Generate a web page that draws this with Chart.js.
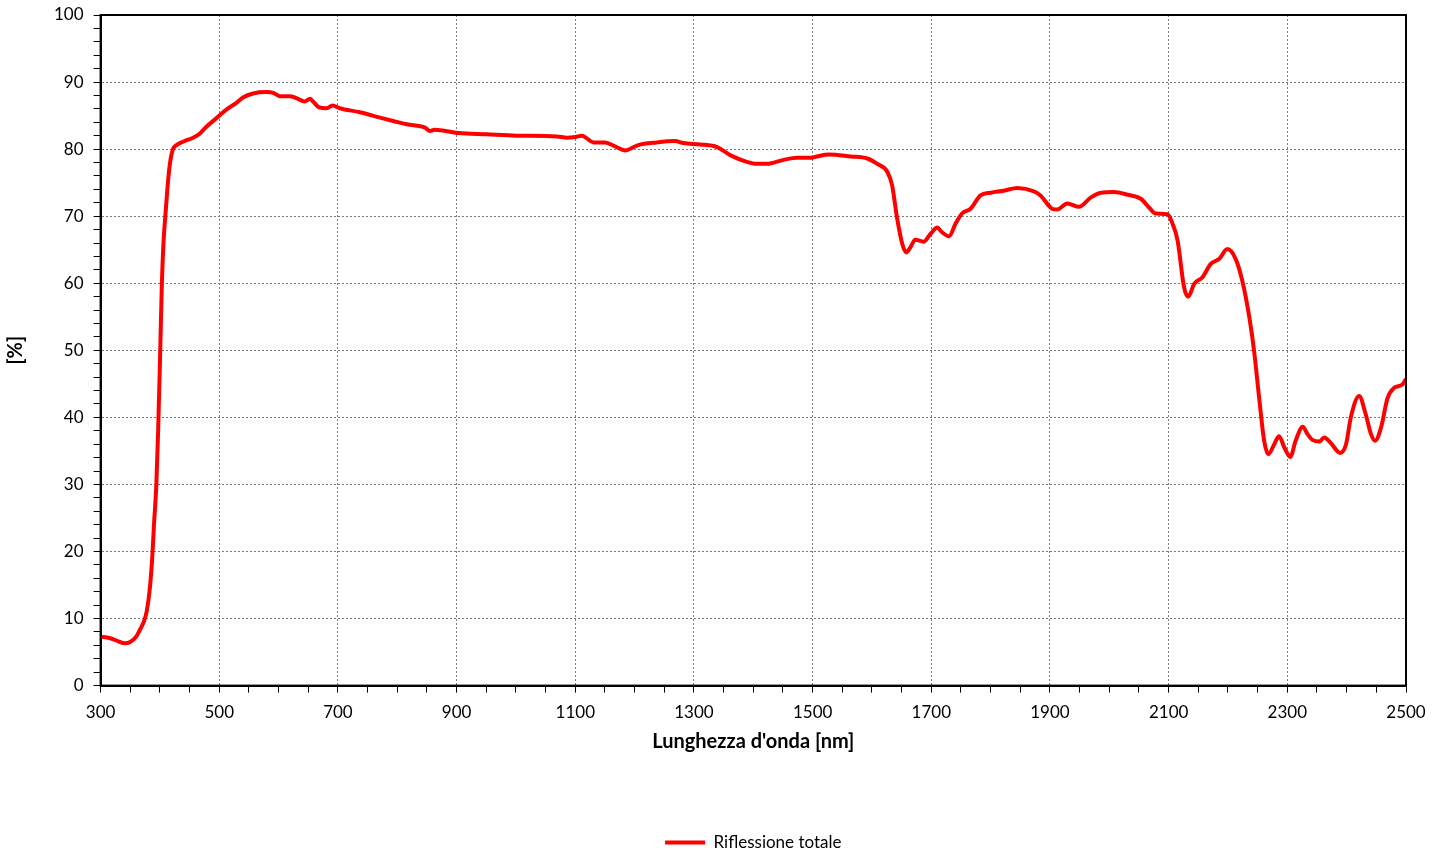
<!DOCTYPE html>
<html>
<head>
<meta charset="utf-8">
<script src="https://cdn.jsdelivr.net/npm/chart.js@4/dist/chart.umd.min.js"></script>
<style>
html,body{margin:0;padding:0;background:#fff;}
#wrap{width:1444px;height:853px;position:relative;}
</style>
</head>
<body>
<div id="wrap"><canvas id="c" width="1444" height="853"></canvas></div>
<script>
const wavelengths = [300,315,330,340,350,360,368,374,378,383,387,390,394,397,400,403,406,410,414,418,422,428,439,456,467,478,495,512,529,540,557,580,591,602,619,630,644,653,658,669,681,691,703,737,771,793,816,847,855,863,903,951,1001,1069,1086,1100,1111,1131,1150,1167,1184,1206,1237,1268,1282,1311,1339,1361,1389,1406,1423,1451,1474,1496,1507,1527,1564,1592,1609,1626,1634,1642,1651,1658,1665,1673,1687,1699,1710,1718,1730,1741,1752,1766,1783,1800,1822,1845,1873,1884,1904,1912,1929,1949,1969,1986,2008,2031,2053,2067,2078,2098,2106,2115,2126,2133,2143,2157,2171,2185,2199,2213,2224,2236,2244,2253,2261,2268,2278,2286,2295,2305,2314,2326,2334,2343,2354,2362,2373,2389,2399,2407,2421,2432,2441,2448,2458,2469,2480,2494,2500];
const reflectance = [7.3,7.1,6.6,6.3,6.5,7.3,8.6,9.8,11.2,14.5,19,24,30,38,48,59,66,71,75.5,78.5,80.0,80.6,81.1,81.7,82.3,83.3,84.6,85.9,86.9,87.7,88.3,88.5,88.4,87.9,87.9,87.6,87.1,87.5,87.1,86.2,86.1,86.5,86.1,85.5,84.7,84.2,83.7,83.2,82.7,82.9,82.4,82.2,82.0,81.9,81.7,81.8,82.0,81.0,81.0,80.4,79.8,80.6,81.0,81.2,80.9,80.7,80.3,79.1,78.1,77.8,77.8,78.4,78.7,78.7,78.9,79.2,78.9,78.6,77.8,76.6,74.6,69.9,65.9,64.6,65.4,66.5,66.2,67.4,68.3,67.6,67.0,68.9,70.4,71.1,73.1,73.5,73.8,74.2,73.7,73.1,71.1,71.0,71.9,71.4,72.8,73.5,73.6,73.2,72.6,71.3,70.4,70.3,69.0,66.4,59.4,58.0,59.9,60.9,62.9,63.6,65.1,63.6,60.4,54.9,49.9,42.5,36.5,34.5,36.0,37.2,35.5,34.1,36.5,38.6,37.5,36.6,36.4,37.0,36.2,34.7,36.0,40.0,43.2,40.5,37.5,36.5,38.5,42.9,44.4,44.9,45.7];
const seriesName = "Riflessione totale";
const xTitle = "Lunghezza d'onda [nm]";
const yTitle = "[%]";
const xMin = 300, xMax = 2500, xMajor = 200, xMinor = 50;
const yMin = 0, yMax = 100, yMajor = 10, yMinor = 2;

const FONT = "Lato, 'Open Sans', sans-serif";
const points = wavelengths.map((w, i) => ({x: w, y: reflectance[i]}));

const frame = {
  id: 'frame',
  afterDraw(chart) {
    const a = chart.chartArea, ctx = chart.ctx;
    ctx.save();
    ctx.strokeStyle = '#000';
    ctx.lineWidth = 2;
    ctx.strokeRect(a.left, a.top, a.right - a.left, a.bottom - a.top);
    ctx.restore();
  }
};

function isMajor(v, start, step) {
  return Math.abs(((v - start) / step) - Math.round((v - start) / step)) < 1e-6;
}

new Chart(document.getElementById('c'), {
  type: 'line',
  data: {
    datasets: [{
      label: seriesName,
      data: points,
      borderColor: '#FF0000',
      backgroundColor: '#FF0000',
      borderWidth: 4,
      pointRadius: 0,
      fill: false,
      cubicInterpolationMode: 'monotone',
      tension: 0.4
    }]
  },
  options: {
    responsive: false,
    animation: false,
    devicePixelRatio: 1,
    layout: {padding: {top: 0, right: 38, left: 4, bottom: -8}},
    plugins: {
      legend: {
        position: 'bottom',
        fullSize: false,
        labels: {
          usePointStyle: true,
          pointStyle: 'line',
          pointStyleWidth: 40,
          boxHeight: 4,
          padding: 2,
          color: '#000',
          font: {family: FONT, size: 17}
        }
      },
      tooltip: {enabled: false}
    },
    scales: {
      x: {
        type: 'linear',
        min: xMin, max: xMax,
        ticks: {
          stepSize: xMinor,
          autoSkip: false,
          maxRotation: 0,
          color: '#000',
          padding: 10,
          font: {family: FONT, size: 17},
          callback: (v) => isMajor(v, xMin, xMajor) ? String(v) : ''
        },
        grid: {
          color: (c) => isMajor(c.tick.value, xMin, xMajor) && c.tick.value !== xMin && c.tick.value !== xMax ? '#7a7a7a' : 'rgba(0,0,0,0)',
          tickColor: '#000',
          tickLength: 7,
          lineWidth: 1
        },
        border: {display: true, color: '#000', width: 2, dash: [2, 2]},
        title: {
          display: true,
          text: xTitle,
          color: '#000',
          font: {family: FONT, size: 20, weight: 'bold'},
          padding: {top: -3, bottom: 78}
        }
      },
      y: {
        type: 'linear',
        min: yMin, max: yMax,
        afterFit: (scale) => { scale.paddingTop = 15; },
        ticks: {
          stepSize: yMinor,
          autoSkip: false,
          color: '#000',
          padding: 10,
          font: {family: FONT, size: 17},
          callback: (v) => isMajor(v, yMin, yMajor) ? String(v) : ''
        },
        grid: {
          color: (c) => isMajor(c.tick.value, yMin, yMajor) && c.tick.value !== yMin && c.tick.value !== yMax ? '#7a7a7a' : 'rgba(0,0,0,0)',
          tickColor: '#000',
          tickLength: 7,
          lineWidth: 1
        },
        border: {display: true, color: '#000', width: 2, dash: [2, 2]},
        title: {
          display: true,
          text: yTitle,
          color: '#000',
          font: {family: FONT, size: 20, weight: 'bold'},
          padding: {top: 0, bottom: 16}
        }
      }
    }
  },
  plugins: [frame]
});
</script>
</body>
</html>
